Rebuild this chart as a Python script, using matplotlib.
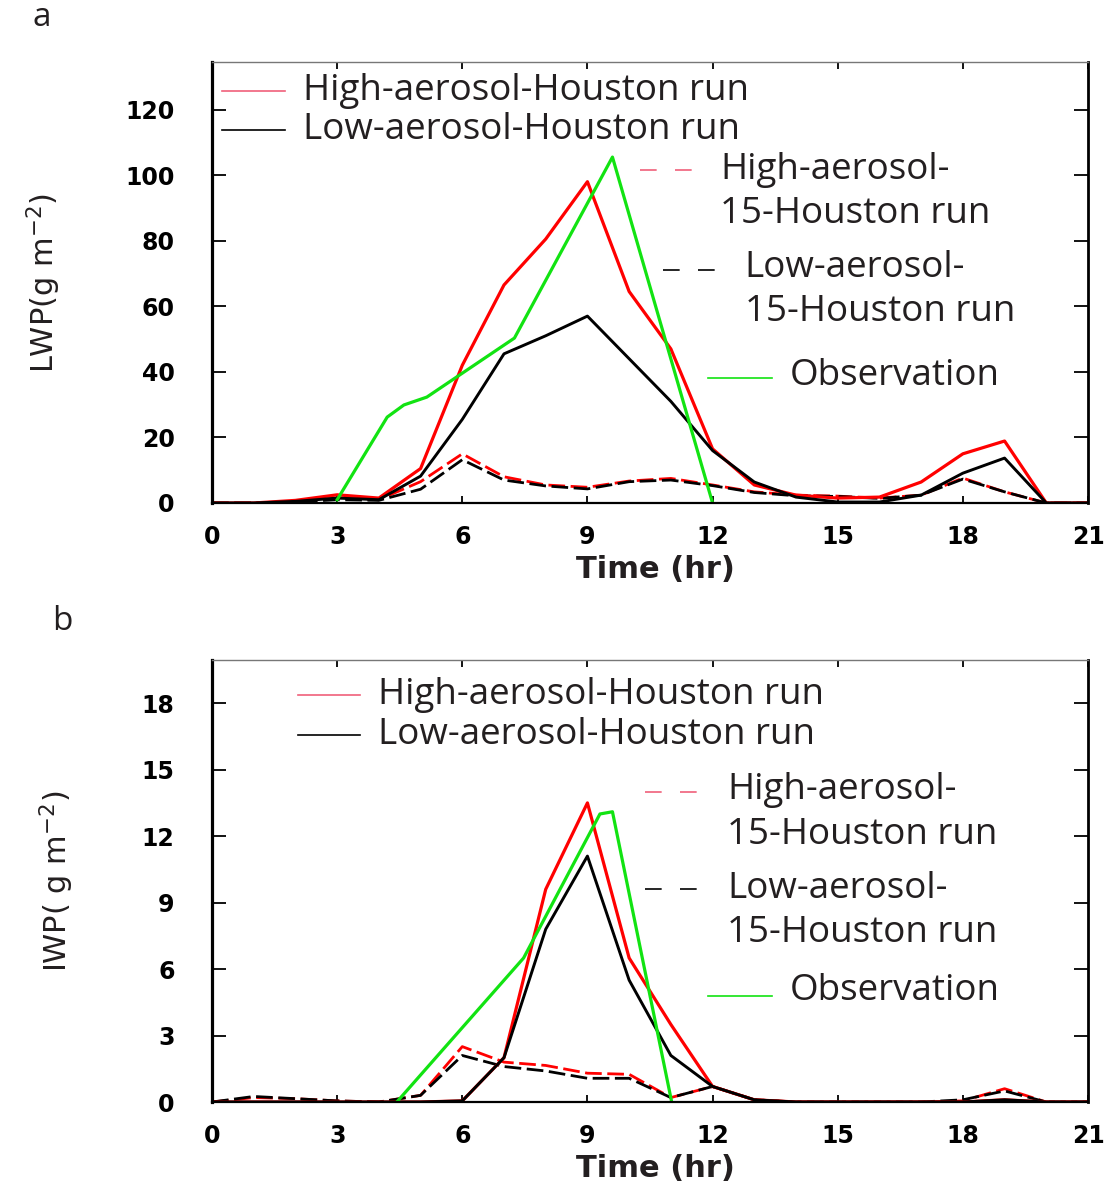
import matplotlib
matplotlib.use("Agg")
import matplotlib.pyplot as plt
import numpy as np

# ---------------- data ----------------
hours = list(range(0, 22))

lwp_high = [0, 0, 0.8, 2.5, 1.5, 10.5, 42, 66.5, 80.5, 98, 64.5, 47, 16.5, 5.5, 2.4, 1.5, 1.8, 6.4, 15, 18.9, 0, 0]
lwp_low = [0, 0, 0.5, 1.5, 1.0, 8.2, 25.5, 45.5, 51, 57, 44, 31, 16, 6.4, 1.8, 0.3, 0.3, 2.4, 9.1, 13.7, 0, 0]
lwp_high15 = [0, 0, 0.3, 1.5, 1.0, 6.5, 15, 8, 5.5, 4.8, 6.7, 7.5, 5.5, 3.4, 2.4, 2.1, 1.5, 2.4, 7.6, 3.4, 0, 0]
lwp_low15 = [0, 0, 0.3, 1.0, 0.8, 4.2, 13.2, 7, 5.2, 4.3, 6.5, 7, 5.3, 3.2, 2.2, 2.0, 1.4, 2.4, 7.3, 3.4, 0, 0]
lwp_obs_t = [3, 4.2, 4.6, 5.15, 7.25, 9.6, 12]
lwp_obs = [1, 26.2, 29.9, 32.3, 50.3, 105.5, 0]

iwp_high = [0, 0, 0, 0, 0, 0, 0.05, 2.0, 9.6, 13.5, 6.5, 3.5, 0.7, 0.1, 0, 0, 0, 0, 0, 0.1, 0, 0]
iwp_low = [0, 0, 0, 0, 0, 0, 0.05, 2.0, 7.8, 11.1, 5.5, 2.1, 0.7, 0.1, 0, 0, 0, 0, 0, 0.1, 0, 0]
iwp_high15 = [0, 0.2, 0.15, 0.05, 0, 0.3, 2.5, 1.8, 1.65, 1.3, 1.25, 0.2, 0.7, 0.1, 0, 0, 0, 0, 0.05, 0.6, 0, 0]
iwp_low15 = [0, 0.25, 0.15, 0.05, 0, 0.3, 2.1, 1.6, 1.4, 1.07, 1.07, 0.2, 0.7, 0.1, 0, 0, 0, 0, 0.1, 0.5, 0, 0]
iwp_obs_t = [4.43, 7.47, 9.3, 9.6, 11.02]
iwp_obs = [0, 6.5, 13.0, 13.1, 0]

xticks = [0, 3, 6, 9, 12, 15, 18, 21]
lwp_ticks = [0, 20, 40, 60, 80, 100, 120]
iwp_ticks = [0, 3, 6, 9, 12, 15, 18]

labels = ["High-aerosol-Houston run", "Low-aerosol-Houston run",
          "High-aerosol-\n15-Houston run", "Low-aerosol-\n15-Houston run", "Observation"]

# ---------------- style ----------------
plt.rcParams['mathtext.default'] = 'regular'
RED = '#ff0000'
GREEN = '#12e312'
LEG_RED = '#f0607a'
TXT = '#231f20'
W, H = 1113, 1186
fig = plt.figure(figsize=(W / 100, H / 100), dpi=100)

def px_axes(l, t, r, b):
    return fig.add_axes([l / W, 1 - b / H, (r - l) / W, (b - t) / H])

ax_a = px_axes(212, 62, 1088, 503)
ax_b = px_axes(212, 660, 1088, 1102)

LEG_FONT = ['Open Sans', 'DejaVu Sans']
LEG_SIZE = 26.5
DASH = (6, 2)


def style_axes(ax, yticks, ylim, ylabel, ylabel_x):
    ax.set_xlim(0, 21)
    ax.set_ylim(*ylim)
    ax.set_xticks(xticks)
    ax.set_yticks(yticks)
    ax.set_xticklabels([str(v) for v in xticks], fontsize=17, fontweight='bold', family='DejaVu Sans')
    ax.set_yticklabels([str(v) for v in yticks], fontsize=17, fontweight='bold', family='DejaVu Sans')
    ax.tick_params(axis='x', direction='in', length=5, width=1.3, top=True, bottom=True, pad=16)
    ax.tick_params(axis='y', direction='in', length=10, width=1.3, left=True, right=True, pad=27)
    ax.spines['left'].set_linewidth(2.3)
    ax.spines['bottom'].set_linewidth(1.6)
    ax.spines['right'].set_linewidth(2.0)
    ax.spines['top'].set_linewidth(1.0)
    ax.spines['top'].set_color('#777777')
    ax.set_xlabel('Time (hr)', fontsize=22, fontweight='bold', family='DejaVu Sans', color=TXT)
    ax.xaxis.set_label_coords(0.506, -0.118)
    ax.set_ylabel(ylabel, fontsize=22, family=['Liberation Sans Narrow', 'DejaVu Sans'], color=TXT)
    ax.yaxis.set_label_coords(ylabel_x, 0.5)


def legend_entries(ax, spec):
    # spec: list of (x0, x1, y_line, x_text, y_text, color, dashed, label)
    for x0, x1, yl, xt, yt, col, dashed, lab in spec:
        ls = (0, (10, 11)) if dashed else '-'
        ax.plot([x0, x1], [yl, yl], transform=ax.transAxes, color=col, lw=1.2,
                linestyle=ls, clip_on=False)
        ax.text(xt, yt, lab, transform=ax.transAxes, fontsize=LEG_SIZE,
                family=LEG_FONT, color=TXT, va='center', ha='left', linespacing=1.3)


# ---------------- panel a ----------------
ax = ax_a
ax.plot(hours, lwp_high15, color=RED, lw=2.0, dashes=DASH)
ax.plot(hours, lwp_low15, color='black', lw=2.0, dashes=DASH)
ax.plot(hours, lwp_high, color=RED, lw=2.3)
ax.plot(hours, lwp_low, color='black', lw=2.1)
ax.plot(lwp_obs_t, lwp_obs, color=GREEN, lw=2.3)
style_axes(ax, lwp_ticks, (0, 134.5), r'LWP(g m$^{-2}$)', -0.17)
legend_entries(ax, [
    (0.011, 0.083, 0.934, 0.104, 0.934, LEG_RED, False, labels[0]),
    (0.011, 0.083, 0.846, 0.104, 0.846, 'black', False, labels[1]),
    (0.489, 0.557, 0.755, 0.580, 0.706, LEG_RED, True, labels[2]),
    (0.515, 0.582, 0.528, 0.608, 0.482, 'black', True, labels[3]),
    (0.566, 0.639, 0.283, 0.660, 0.288, GREEN, False, labels[4]),
])
fig.text(42 / W, 1 - 18 / H, 'a', fontsize=24, family=LEG_FONT, color=TXT, ha='center', va='center')

# ---------------- panel b ----------------
ax = ax_b
ax.plot(hours, iwp_high15, color=RED, lw=2.0, dashes=DASH)
ax.plot(hours, iwp_low15, color='black', lw=2.0, dashes=DASH)
ax.plot(hours, iwp_high, color=RED, lw=2.3)
ax.plot(hours, iwp_low, color='black', lw=2.1)
ax.plot(iwp_obs_t, iwp_obs, color=GREEN, lw=2.3)
style_axes(ax, iwp_ticks, (0, 19.95), r'IWP( g m$^{-2}$)', -0.155)
legend_entries(ax, [
    (0.098, 0.169, 0.921, 0.189, 0.921, LEG_RED, False, labels[0]),
    (0.098, 0.169, 0.830, 0.189, 0.830, 'black', False, labels[1]),
    (0.494, 0.566, 0.701, 0.588, 0.655, LEG_RED, True, labels[2]),
    (0.494, 0.566, 0.482, 0.588, 0.433, 'black', True, labels[3]),
    (0.566, 0.639, 0.240, 0.660, 0.251, GREEN, False, labels[4]),
])
fig.text(62 / W, 1 - 622 / H, 'b', fontsize=24, family=LEG_FONT, color=TXT, ha='center', va='center')

fig.savefig('out.png', dpi=100)
